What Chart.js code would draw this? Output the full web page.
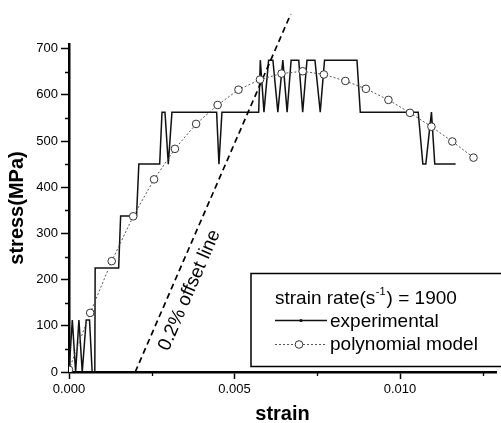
<!DOCTYPE html>
<html>
<head>
<meta charset="utf-8">
<script src="https://cdn.jsdelivr.net/npm/chart.js@4.4.1/dist/chart.umd.min.js"></script>
<style>
  html, body { margin: 0; padding: 0; background: #fff; }
  #wrap { width: 501px; height: 423px; }
</style>
</head>
<body>
<div id="wrap"><canvas id="stressChart" width="501" height="423"></canvas></div>
<script>
// experimental curve (stress comes in steps of 112.5 MPa)
var expStrain = [0, 0.0001, 0.0002, 0.0003, 0.0004, 0.00052, 0.00062, 0.0007, 0.00078, 0.00079,
                 0.0015, 0.00156, 0.00204, 0.00211, 0.00274, 0.00281, 0.0029, 0.003, 0.00311,
                 0.00446, 0.00453, 0.00462, 0.00573, 0.00578, 0.00589, 0.00603, 0.00616, 0.00631,
                 0.00646, 0.00659, 0.00671, 0.00694, 0.00706, 0.00719, 0.00743, 0.00759, 0.00772,
                 0.0087, 0.0088, 0.01055, 0.01069, 0.01078, 0.01095, 0.01105, 0.01168];
var expStress = [0, 112.5, 0, 112.5, 0, 112.5, 112.5, 0, 0, 225,
                 225, 337.5, 337.5, 450, 450, 562.5, 562.5, 450, 562.5,
                 562.5, 450, 562.5, 562.5, 675, 562.5, 675, 675, 562.5,
                 675, 562.5, 675, 675, 562.5, 675, 675, 562.5, 675,
                 675, 562.5, 562.5, 450, 450, 562.5, 450, 450];

// polynomial model (open circles)
var polyStrain = [0, 0.00064, 0.00129, 0.00194, 0.00257, 0.0032, 0.00384, 0.00449, 0.00512, 0.00577,
                  0.00642, 0.00706, 0.0077, 0.00835, 0.00897, 0.00965, 0.0103, 0.01095, 0.01158, 0.01222];
var polyStress = [5, 128, 240, 337, 417, 483, 537, 578, 611, 633,
                  646, 651, 644, 630, 613, 589, 561, 531, 499, 464];

// 0.2% offset line end points
var offsetStrain = [0.002, 0.0067];
var offsetStress = [0, 775];

// tick positions
var xTicks = [0, 0.005, 0.010];
var yTicks = [0, 100, 200, 300, 400, 500, 600, 700];
var yMinor = [50, 150, 250, 350, 450, 550, 650];
var xMinor = [0.0025, 0.0075, 0.0125];
var strainRate = 1900;

var FONT = "'Liberation Sans', Arial, Helvetica, sans-serif";
Chart.defaults.font.family = FONT;
Chart.defaults.color = '#000';

function toPoints(xs, ys) {
    return xs.map(function (x, i) { return {x: x, y: ys[i]}; });
}

// small ticks between the labelled ones
var minorTicks = {
    id: 'minorTicks',
    afterDraw: function (chart) {
        var ctx = chart.ctx, a = chart.chartArea;
        var xs = chart.scales.x, ys = chart.scales.y;
        ctx.save();
        ctx.strokeStyle = '#000';
        ctx.lineWidth = 1.3;
        ctx.beginPath();
        yMinor.forEach(function (v) {
            var py = Math.round(ys.getPixelForValue(v)) + 0.5;
            ctx.moveTo(a.left - 4, py);
            ctx.lineTo(a.left, py);
        });
        xMinor.forEach(function (v) {
            var px = Math.round(xs.getPixelForValue(v)) + 0.5;
            ctx.moveTo(px, a.bottom);
            ctx.lineTo(px, a.bottom + 4);
        });
        ctx.stroke();
        ctx.restore();
    }
};

// text along the offset line
var offsetLabel = {
    id: 'offsetLabel',
    afterDatasetsDraw: function (chart, args, opts) {
        var ctx = chart.ctx, xs = chart.scales.x, ys = chart.scales.y;
        var x0 = xs.getPixelForValue(offsetStrain[0]), y0 = ys.getPixelForValue(offsetStress[0]);
        var x1 = xs.getPixelForValue(offsetStrain[1]), y1 = ys.getPixelForValue(offsetStress[1]);
        var ang = Math.atan2(y1 - y0, x1 - x0);
        ctx.save();
        ctx.translate(xs.getPixelForValue(opts.at[0]), ys.getPixelForValue(opts.at[1]));
        ctx.rotate(ang);
        ctx.font = '19px ' + FONT;
        ctx.fillStyle = '#000';
        ctx.textAlign = 'center';
        ctx.textBaseline = 'middle';
        ctx.fillText(opts.text, 0, 0);
        ctx.restore();
    }
};

// boxed legend inside the plot
var boxLegend = {
    id: 'boxLegend',
    afterDraw: function (chart) {
        var ctx = chart.ctx;
        var bx = 251, by = 273.5, bw = 260, bh = 93;
        ctx.save();
        ctx.fillStyle = '#fff';
        ctx.fillRect(bx, by, bw, bh);
        ctx.strokeStyle = '#000';
        ctx.lineWidth = 1.5;
        ctx.strokeRect(bx, by, bw, bh);

        var tx = 275;
        ctx.fillStyle = '#000';
        ctx.textBaseline = 'alphabetic';
        ctx.font = '19px ' + FONT;
        var p1 = 'strain rate(s';
        ctx.fillText(p1, tx, 304);
        var w1 = ctx.measureText(p1).width;
        ctx.font = '11px ' + FONT;
        ctx.fillText('-1', tx + w1 + 0.5, 295);
        var w2 = ctx.measureText('-1').width;
        ctx.font = '19px ' + FONT;
        ctx.fillText(') = ' + strainRate, tx + w1 + w2 + 1.5, 304);

        // experimental sample
        ctx.strokeStyle = '#111';
        ctx.lineWidth = 1.3;
        ctx.beginPath();
        ctx.moveTo(tx, 320.5);
        ctx.lineTo(327, 320.5);
        ctx.stroke();
        ctx.beginPath();
        ctx.arc(301, 320.5, 1.6, 0, Math.PI * 2);
        ctx.fillStyle = '#111';
        ctx.fill();
        ctx.fillStyle = '#000';
        ctx.fillText(chart.data.datasets[0].label, 330, 326.5);

        // polynomial sample
        ctx.strokeStyle = '#555';
        ctx.lineWidth = 1;
        ctx.setLineDash([2, 2]);
        ctx.beginPath();
        ctx.moveTo(tx, 344.5);
        ctx.lineTo(327, 344.5);
        ctx.stroke();
        ctx.setLineDash([]);
        ctx.beginPath();
        ctx.arc(299, 344.5, 3.8, 0, Math.PI * 2);
        ctx.fillStyle = '#fff';
        ctx.fill();
        ctx.strokeStyle = '#333';
        ctx.stroke();
        ctx.fillStyle = '#000';
        ctx.fillText(chart.data.datasets[1].label, 330, 349.5);
        ctx.restore();
    }
};

var ctx = document.getElementById('stressChart');

var stressChart = new Chart(ctx, {
    type: 'line',
    data: {
        datasets: [{
            label: 'experimental',
            data: toPoints(expStrain, expStress),
            borderColor: '#111',
            borderWidth: 1.5,
            pointRadius: 0,
            tension: 0,
            order: 3
        }, {
            label: 'polynomial model',
            data: toPoints(polyStrain, polyStress),
            borderColor: '#555',
            borderWidth: 1,
            borderDash: [2, 2],
            pointRadius: 3.8,
            pointBackgroundColor: '#fff',
            pointBorderColor: '#333',
            pointBorderWidth: 1,
            tension: 0,
            order: 1
        }, {
            label: 'offset',
            data: toPoints(offsetStrain, offsetStress),
            borderColor: '#000',
            borderWidth: 1.7,
            borderDash: [6, 4],
            pointRadius: 0,
            clip: false,
            order: 2
        }]
    },
    options: {
        responsive: false,
        animation: false,
        events: [],
        layout: { padding: { top: 44, right: 1, bottom: 0, left: 0 } },
        plugins: {
            legend: { display: false },
            tooltip: { enabled: false },
            offsetLabel: { text: '0.2% offset line', at: [0.00364, 177] }
        },
        scales: {
            x: {
                type: 'linear',
                min: 0,
                max: 0.0129,
                afterFit: function (s) { s.height = 51; },
                afterBuildTicks: function (s) {
                    s.ticks = xTicks.map(function (v) { return {value: v}; });
                },
                ticks: {
                    maxRotation: 0,
                    autoSkip: false,
                    padding: 3,
                    font: { size: 13 },
                    color: '#000',
                    callback: function (v) { return Number(v).toFixed(3); }
                },
                grid: { drawOnChartArea: false, drawTicks: true, tickLength: 7, tickColor: '#000', tickWidth: 1.5 },
                border: { display: true, color: '#000', width: 2.5 },
                title: {
                    display: true,
                    text: 'strain',
                    font: { size: 20, weight: 'bold' },
                    color: '#000',
                    padding: { top: 0, bottom: -3 }
                }
            },
            y: {
                min: 0,
                max: 710,
                afterFit: function (s) { s.width = 69; },
                afterBuildTicks: function (s) {
                    s.ticks = yTicks.map(function (v) { return {value: v}; });
                },
                ticks: {
                    autoSkip: false,
                    padding: 3,
                    font: { size: 13 },
                    color: '#000',
                    callback: function (v) { return String(v); }
                },
                grid: { drawOnChartArea: false, drawTicks: true, tickLength: 8, tickColor: '#000', tickWidth: 1.5 },
                border: { display: true, color: '#000', width: 2.5 },
                title: {
                    display: true,
                    text: 'stress(MPa)',
                    font: { size: 20, weight: 'bold' },
                    color: '#000',
                    padding: { top: 5, bottom: 0 }
                }
            }
        }
    },
    plugins: [minorTicks, offsetLabel, boxLegend]
});
</script>
</body>
</html>
